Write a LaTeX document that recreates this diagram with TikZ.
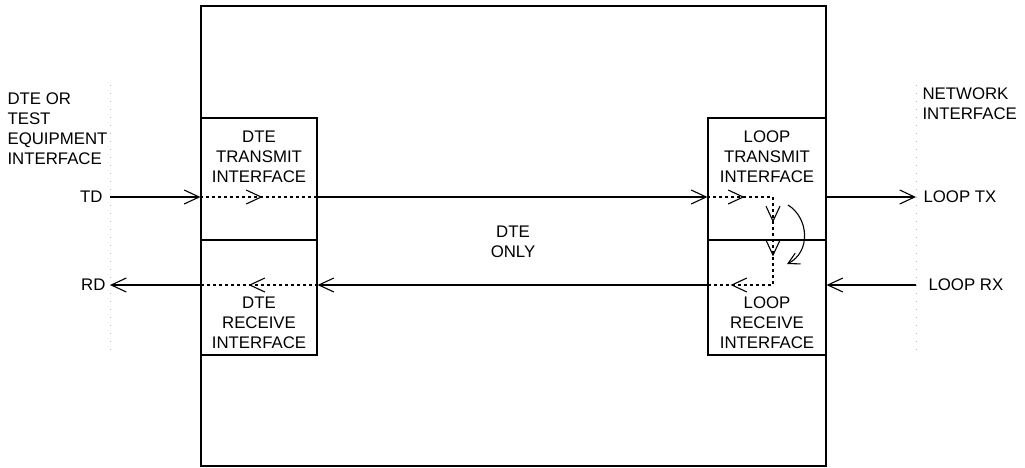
\documentclass[tikz,border=0pt]{standalone}
\usepackage{fontspec}
\setmainfont{Liberation Sans}
\usetikzlibrary{arrows.meta,decorations.markings}

\begin{document}
\begin{tikzpicture}[x=1pt, y=-1pt, line width=1.1pt,
    every node/.style={font=\fontsize{16.8}{20}\selectfont, inner sep=0pt, align=center},
    upper/.style={draw, minimum width=116pt, minimum height=122pt},
    lower/.style={draw, minimum width=116pt, minimum height=115pt},
    sig/.style={-{Straight Barb[length=15pt,width=14pt]}},
    dots/.style={dash pattern=on 3pt off 3pt},
    tip at/.style={postaction={decorate}, decoration={markings,
      mark=at position #1 with {\arrow[solid]{Straight Barb[length=15pt,width=14pt]}}}},
    edge/.style={line width=0.6pt, gray!60, dash pattern=on 1pt off 7pt}]
    \useasboundingbox (0,0) rectangle (1025,467);
    % unit and interface blocks
    \node[draw, minimum width=625pt, minimum height=460pt] (unit) at (513.5,236) {};
    \node[upper] (dtx) at (259,179) {};
    \node[lower] (drx) at (259,297.5) {};
    \node[upper, minimum width=118pt] (ltx) at (767,179) {};
    \node[lower, minimum width=118pt] (lrx) at (767,297.5) {};
    \node (dtxtext) at (259,157) {DTE\\TRANSMIT\\INTERFACE};
    \node (drxtext) at (259,323) {DTE\\RECEIVE\\INTERFACE};
    \node (ltxtext) at (767,157) {LOOP\\TRANSMIT\\INTERFACE};
    \node (lrxtext) at (767,323) {LOOP\\RECEIVE\\INTERFACE};
    \node (only) at (513,242) {DTE\\ONLY};
    % interface edges
    \draw[edge] (110,85) -- (110,355);
    \draw[edge] (916,85) -- (916,355);
    \node[anchor=north west, align=left] (dteside) at (7,92) {DTE OR\\TEST\\EQUIPMENT\\INTERFACE};
    \node[anchor=north west, align=left] (netside) at (922,87) {NETWORK\\INTERFACE};
    \node[anchor=east] (td) at (103,197) {TD};
    \node[anchor=east] (rd) at (106,285) {RD};
    \node[anchor=west] (looptx) at (923,197) {LOOP TX};
    \node[anchor=west] (looprx) at (928,285) {LOOP RX};
    \coordinate (tdin) at (110,197);
    \coordinate (rdout) at (110,285);
    \coordinate (txout) at (916,197);
    \coordinate (rxin) at (916,285);
    \coordinate (turn) at (773,197);
    % signal paths
    \draw[sig] (tdin) -- (dtx.west |- tdin);
    \draw[dots, tip at=62pt] (dtx.west |- tdin) -- (dtx.east |- tdin);
    \draw[sig] (dtx.east |- tdin) -- (ltx.west |- tdin);
    \draw[dots, postaction={decorate}, decoration={markings,
      mark=at position 37pt with {\arrow[solid]{Straight Barb[length=15pt,width=14pt]}},
      mark=at position 91pt with {\arrow[solid]{Straight Barb[length=15pt,width=14pt]}},
      mark=at position 125pt with {\arrow[solid]{Straight Barb[length=15pt,width=14pt]}},
      mark=at position 196pt with {\arrow[solid]{Straight Barb[length=15pt,width=14pt]}}}]
      (ltx.west |- tdin) -- (turn) -- (turn |- rdout) -- (lrx.west |- rdout);
    \draw[sig] (ltx.east |- tdin) -- (txout);
    \draw[sig] (rxin) -- (lrx.east |- rdout);
    \draw[sig] (lrx.west |- rdout) -- (drx.east |- rdout);
    \draw[dots, tip at=69pt] (drx.east |- rdout) -- (drx.west |- rdout);
    \draw[sig] (drx.west |- rdout) -- (rdout);
    \draw[-{Straight Barb[length=11pt,width=12pt]}] (788,205) .. controls (809,218) and (811,252) .. (787,264);
\end{tikzpicture}
\end{document}
